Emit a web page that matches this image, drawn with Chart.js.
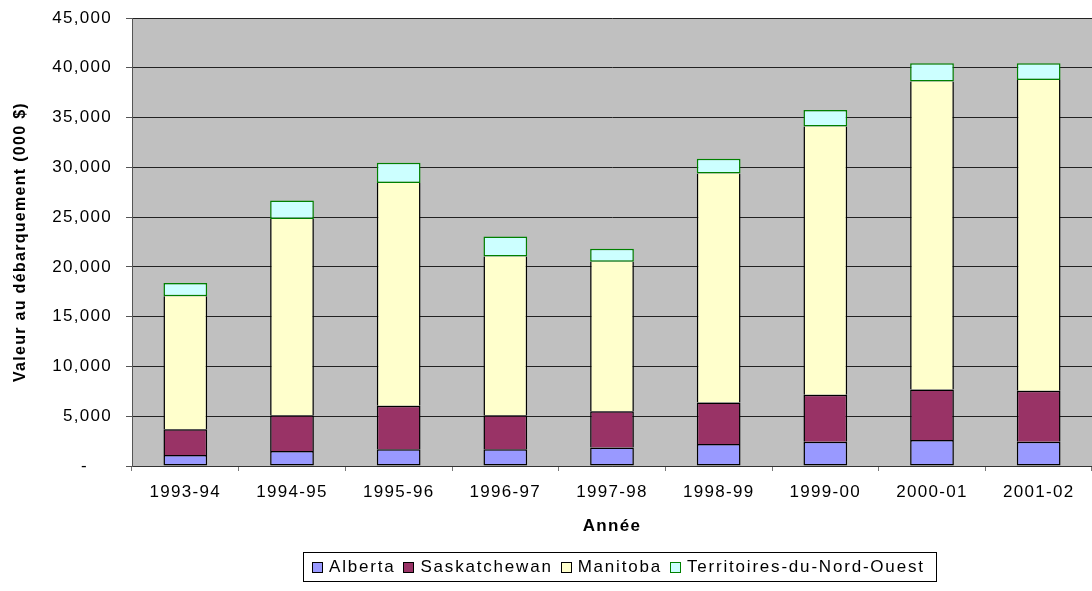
<!DOCTYPE html>
<html lang="fr">
<head>
<meta charset="utf-8">
<title>Valeur au débarquement</title>
<script src="https://cdn.jsdelivr.net/npm/chart.js@4.4.1/dist/chart.umd.min.js"></script>
<style>
    body { margin: 0; background: #fff; }
    #wrap { position: relative; width: 1092px; height: 591px; }
    #chart { position: absolute; left: 0; top: 0; }
    #legend {
        position: absolute; left: 303px; top: 552px; width: 634px; height: 30px;
        box-sizing: border-box; border: 1px solid #000;
        display: flex; align-items: center; padding-left: 8px;
        font: 17px "Liberation Sans", Arial, sans-serif; letter-spacing: 1.8px; color: #000;
    }
    #legend .item { display: flex; align-items: center; margin-right: 8px; }
    #legend .box { width: 9px; height: 9px; border: 1px solid #000; margin-right: 6px; }
</style>
</head>
<body>
<div id="wrap">
    <canvas id="chart" width="1092" height="591"></canvas>
    <div id="legend"></div>
</div>
<script>
// ============ DONNEES ============
const years = ["1993-94", "1994-95", "1995-96", "1996-97", "1997-98", "1998-99", "1999-00", "2000-01", "2001-02"];
const alberta = [1100, 1500, 1670, 1670, 1870, 2200, 2440, 2600, 2440];
const saskatchewan = [2580, 3610, 4370, 3440, 3640, 4180, 4710, 5080, 5110];
const manitoba = [13380, 19710, 22390, 15930, 15000, 23010, 26950, 30930, 31230];
const territoires = [1310, 1860, 2030, 2010, 1300, 1470, 1670, 1840, 1670];
const yTicks = [0, 5000, 10000, 15000, 20000, 25000, 30000, 35000, 40000, 45000];

const FONT = '"Liberation Sans", Arial, sans-serif';
Chart.defaults.font.family = FONT;
Chart.defaults.color = "#000";

// fond gris de la zone de tracé + espacement des lettres
const plotBackground = {
    id: "plotBackground",
    beforeDraw(chart) {
        const { ctx, chartArea: a } = chart;
        ctx.letterSpacing = "1.3px";
        ctx.save();
        ctx.fillStyle = "#C0C0C0";
        ctx.fillRect(a.left, a.top, a.right - a.left, a.bottom - a.top);
        ctx.restore();
    },
};

const series = [
    { label: "Alberta", data: alberta, bg: "#9999FF", border: "#000",
      bw: 1.5 },
    { label: "Saskatchewan", data: saskatchewan, bg: "#993366", border: "#000",
      bw: { top: 1.5, left: 1.5, right: 1.5, bottom: 0 } },
    { label: "Manitoba", data: manitoba, bg: "#FFFFCC", border: "#000",
      bw: { top: 0, left: 1.5, right: 1.5, bottom: 0 } },
    { label: "Territoires-du-Nord-Ouest", data: territoires, bg: "#CCFFFF", border: "#008000",
      bw: 1.5 },
];

new Chart(document.getElementById("chart"), {
    type: "bar",
    data: {
        labels: years,
        datasets: series.map((s) => ({
            label: s.label,
            data: s.data,
            backgroundColor: s.bg,
            borderColor: s.border,
            borderWidth: s.bw,
            borderSkipped: false,
            barPercentage: 0.41,
            categoryPercentage: 1,
        })),
    },
    options: {
        responsive: false,
        animation: false,
        layout: { padding: { top: 18, left: 0, right: 0, bottom: 50 } },
        plugins: { legend: { display: false }, tooltip: { enabled: false } },
        scales: {
            x: {
                stacked: true,
                afterFit: (s) => { s.height = 75; },
                grid: { offset: true, drawOnChartArea: false, tickLength: 5, tickColor: "#777" },
                border: { color: "#333", width: 1 },
                ticks: { font: { size: 17 }, padding: 11, maxRotation: 0, autoSkip: false },
                title: {
                    display: true, text: "Année",
                    font: { size: 17, weight: "bold" }, padding: { top: 0, bottom: 4 },
                },
            },
            y: {
                stacked: true,
                min: 0,
                max: 45000,
                afterFit: (s) => {
                    s.width = 132;
                    s.paddingTop = 0;
                    s.paddingBottom = 0;
                },
                afterBuildTicks: (s) => { s.ticks = yTicks.map((v) => ({ value: v })); },
                grid: { color: "#222", lineWidth: 1, tickLength: 6, tickColor: "#555" },
                border: { color: "#555", width: 1 },
                ticks: {
                    font: { size: 17 },
                    padding: 14,
                    callback: (v) => (v === 0 ? "-    " : v.toLocaleString("en-US")),
                },
                title: {
                    display: true, text: "Valeur au débarquement (000 $)",
                    font: { size: 16, weight: "bold" }, padding: { top: 11, bottom: 0 },
                },
            },
        },
    },
    plugins: [plotBackground],
});

// ============ LEGENDE ============
const legend = document.getElementById("legend");
series.forEach((s) => {
    const item = document.createElement("span");
    item.className = "item";
    const box = document.createElement("span");
    box.className = "box";
    box.style.background = s.bg;
    box.style.borderColor = s.border;
    item.appendChild(box);
    item.appendChild(document.createTextNode(s.label));
    legend.appendChild(item);
});
</script>
</body>
</html>
